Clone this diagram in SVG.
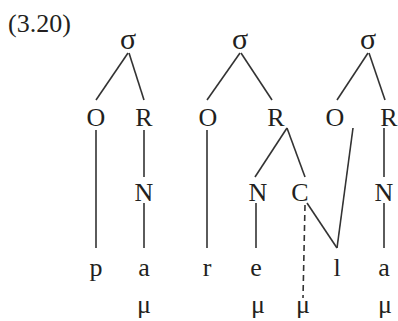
<svg xmlns="http://www.w3.org/2000/svg" width="398" height="321" viewBox="0 0 398 321">
<style>
text{font-family:"Liberation Serif","Times New Roman",serif;fill:#231f20;text-anchor:middle}
.t{font-size:26px}
.s{font-size:30px}
.c line{stroke:#333;stroke-width:1.6;fill:none}
.d{stroke-dasharray:6,4}
</style>
<rect width="398" height="321" fill="#fff"/>
<text x="8" y="32" style="font-size:26px;text-anchor:start">(3.20)</text>
<g class="c" id="connectors">
<line x1="128" y1="53" x2="96" y2="100"/>
<line x1="129" y1="53" x2="144" y2="100"/>
<line x1="96" y1="130" x2="96" y2="248"/>
<line x1="144" y1="130" x2="144" y2="177"/>
<line x1="144" y1="203" x2="144" y2="248"/>
<line x1="240" y1="53" x2="207" y2="100"/>
<line x1="241" y1="53" x2="272" y2="100"/>
<line x1="207" y1="130" x2="207" y2="248"/>
<line x1="287" y1="128" x2="255" y2="177"/>
<line x1="287" y1="128" x2="305" y2="177"/>
<line x1="256" y1="203" x2="256" y2="248"/>
<line x1="307" y1="203" x2="337" y2="248"/>
<line x1="353" y1="128" x2="337" y2="248"/>
<line class="d" x1="305" y1="205" x2="303" y2="298"/>
<line x1="368" y1="53" x2="337" y2="100"/>
<line x1="369" y1="53" x2="385" y2="100"/>
<line x1="384" y1="128" x2="384" y2="177"/>
<line x1="384" y1="203" x2="384" y2="248"/>
</g>
<g id="s1"><text class="s" x="128" y="49">σ</text></g>
<g id="s2"><text class="s" x="240" y="49">σ</text></g>
<g id="s3"><text class="s" x="368" y="49">σ</text></g>
<g id="O1"><text class="t" x="96" y="126">O</text></g>
<g id="R1"><text class="t" x="144" y="126">R</text></g>
<g id="O2"><text class="t" x="208" y="126">O</text></g>
<g id="R2"><text class="t" x="276" y="126">R</text></g>
<g id="O3"><text class="t" x="335" y="126">O</text></g>
<g id="R3"><text class="t" x="389" y="126">R</text></g>
<g id="N1"><text class="t" x="144" y="201">N</text></g>
<g id="N2"><text class="t" x="258" y="201">N</text></g>
<g id="C"><text class="t" x="300" y="201">C</text></g>
<g id="N3"><text class="t" x="384" y="201">N</text></g>
<g id="p"><text class="t" x="96" y="276">p</text></g>
<g id="a1"><text class="t" x="144" y="276">a</text></g>
<g id="r"><text class="t" x="207" y="276">r</text></g>
<g id="e"><text class="t" x="256" y="276">e</text></g>
<g id="l"><text class="t" x="337" y="276">l</text></g>
<g id="a2"><text class="t" x="384" y="276">a</text></g>
<g id="m1"><text class="t" x="144" y="313">μ</text></g>
<g id="m2"><text class="t" x="258" y="313">μ</text></g>
<g id="m3"><text class="t" x="303" y="313">μ</text></g>
<g id="m4"><text class="t" x="385" y="313">μ</text></g>
</svg>
